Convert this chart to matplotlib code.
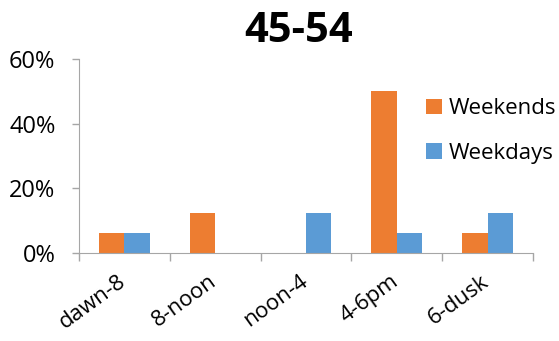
import numpy as np
import matplotlib.pyplot as plt
import matplotlib.transforms as mtransforms
from matplotlib.ticker import FixedLocator, PercentFormatter

categories = ['dawn-8', '8-noon', 'noon-4', '4-6pm', '6-dusk']
weekends = [6.25, 12.5, 0, 50, 6.25]
weekdays = [6.25, 0, 12.5, 6.25, 12.5]
y_ticks = [0, 20, 40, 60]

plt.rcParams['font.family'] = ['Open Sans', 'DejaVu Sans']

fig = plt.figure(figsize=(5.59, 3.41), dpi=100)
ax = fig.add_axes([0.1413, 0.258, 0.812, 0.569])

x = np.arange(len(categories))
w = 0.28
ax.bar(x - w / 2, weekends, width=w, color='#ED7D31', label='Weekends')
ax.bar(x + w / 2, weekdays, width=w, color='#5B9BD5', label='Weekdays')

ax.set_xlim(-0.5, len(categories) - 0.5)
ax.set_ylim(0, 60)
ax.set_yticks(y_ticks)
ax.yaxis.set_major_formatter(PercentFormatter(decimals=0))

# boundaries as major ticks, labels on minor ticks at centres
ax.xaxis.set_major_locator(FixedLocator(np.arange(len(categories) + 1) - 0.5))
ax.xaxis.set_major_formatter(plt.NullFormatter())
ax.xaxis.set_minor_locator(FixedLocator(x))
ax.set_xticklabels(categories, minor=True, rotation=36, ha='right',
                   rotation_mode='anchor', fontsize=16)
ax.tick_params(axis='x', which='minor', length=0, pad=13)
ax.tick_params(axis='x', which='major', length=6, color='#a6a6a6', width=1)
ax.tick_params(axis='y', length=5, color='#a6a6a6', width=1, labelsize=17, pad=12)

# nudge category labels a little to the left
shift = mtransforms.ScaledTranslation(-5 / 72, 0, fig.dpi_scale_trans)
for lab in ax.get_xticklabels(minor=True):
    lab.set_transform(lab.get_transform() + shift)

for s in ['top', 'right']:
    ax.spines[s].set_visible(False)
for s in ['left', 'bottom']:
    ax.spines[s].set_color('#a6a6a6')

fig.text(0.534, 0.878, '45-54', ha='center', va='baseline', fontsize=30, fontweight='bold')

ax.legend(loc='upper left', bbox_to_anchor=(0.762, 0.712), bbox_transform=fig.transFigure,
          frameon=False, fontsize=16, handlelength=0.7, handleheight=0.7,
          handletextpad=0.3, labelspacing=1.05, borderaxespad=0, borderpad=0)

fig.savefig('out.png', dpi=100)
